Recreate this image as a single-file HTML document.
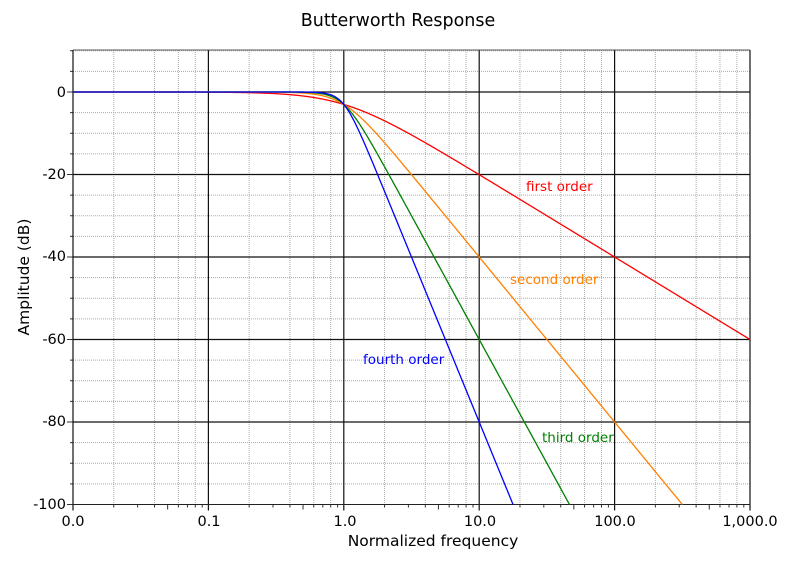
<!DOCTYPE html>
<html><head><meta charset="utf-8"><style>
body{margin:0;background:#fff}
svg{display:block;font-family:"DejaVu Sans","Liberation Sans",sans-serif}
</style></head><body>
<svg id="s" width="797" height="562" xmlns="http://www.w3.org/2000/svg">
<g id="grid"></g>
<g id="curves" fill="none" stroke-width="1.3"></g>
<text x="398" y="26" text-anchor="middle" font-size="17.5">Butterworth Response</text>
<text x="433" y="546" text-anchor="middle" font-size="15.5">Normalized frequency</text>
<text transform="translate(29,277) rotate(-90)" text-anchor="middle" font-size="15.5">Amplitude (dB)</text>
<g font-size="14.5" text-anchor="end">
<text x="66" y="97">0</text><text x="66" y="179">-20</text><text x="66" y="261">-40</text>
<text x="66" y="344">-60</text><text x="66" y="426">-80</text><text x="66" y="509">-100</text>
</g>
<g font-size="14.5" text-anchor="middle">
<text x="73" y="526">0.0</text><text x="209" y="526">0.1</text><text x="345" y="526">1.0</text>
<text x="480" y="526">10.0</text><text x="615" y="526">100.0</text><text x="750" y="526">1,000.0</text>
</g>
<g font-size="13.5">
<text x="526" y="191" fill="#ff0000">first order</text>
<text x="510" y="284" fill="#ff8000">second order</text>
<text x="542" y="442" fill="#008000">third order</text>
<text x="363" y="364" fill="#0000ff">fourth order</text>
</g>
</svg>
<script>
var L=73,R=750,T=50,B=504.5,D=(R-L)/5;
function X(f){return L+(Math.log10(f)+2)*D}
function Y(db){return 92+(-db)*(412.5/100)}
var g='';
for(var d=-2;d<3;d++){for(var k=2;k<=9;k++){var x=X(k*Math.pow(10,d));
 if(k%2==0) g+='<line x1="'+x+'" y1="'+T+'" x2="'+x+'" y2="'+B+'" stroke="#aaa" stroke-dasharray="1,1"/>';
 g+='<line x1="'+x+'" y1="'+B+'" x2="'+x+'" y2="'+(B+(k==5?5:3))+'" stroke="#333"/>';}}
for(var db=10;db>=-100;db-=5){var y=Y(db);
 if(db%20!=0) g+='<line x1="'+L+'" y1="'+y+'" x2="'+R+'" y2="'+y+'" stroke="#aaa" stroke-dasharray="1,1"/>';
 g+='<line x1="'+(L-(db%20==0?6:3))+'" y1="'+y+'" x2="'+L+'" y2="'+y+'" stroke="#333"/>';}
for(var d=-2;d<=3;d++){var x=X(Math.pow(10,d));g+='<line x1="'+x+'" y1="'+T+'" x2="'+x+'" y2="'+(B+6)+'" stroke="#111" stroke-width="1.2"/>';}
for(var db=0;db>=-80;db-=20){var y=Y(db);g+='<line x1="'+L+'" y1="'+y+'" x2="'+R+'" y2="'+y+'" stroke="#111" stroke-width="1.2"/>';}
g+='<line x1="'+L+'" y1="'+T+'" x2="'+R+'" y2="'+T+'" stroke="#555"/>';
g+='<line x1="'+L+'" y1="'+B+'" x2="'+R+'" y2="'+B+'" stroke="#222"/>';
document.getElementById('grid').innerHTML=g;
var cols=['#ff0000','#ff8000','#008000','#0000ff'],c='';
for(var n=1;n<=4;n++){var p='';
 for(var i=0;i<=1000;i++){var lf=-2+5*i/1000,f=Math.pow(10,lf);var db=-10*Math.log10(1+Math.pow(f,2*n));
  if(db<-100){var lf2=Math.log10(Math.pow(Math.pow(10,10)-1,1/(2*n)));p+='L'+X(Math.pow(10,lf2)).toFixed(2)+','+Y(-100).toFixed(2);break;}
  p+=(i?'L':'M')+X(f).toFixed(2)+','+Y(db).toFixed(2);}
 c+='<path d="'+p+'" stroke="'+cols[n-1]+'"/>';}
document.getElementById('curves').innerHTML=c;
</script>
</body></html>
